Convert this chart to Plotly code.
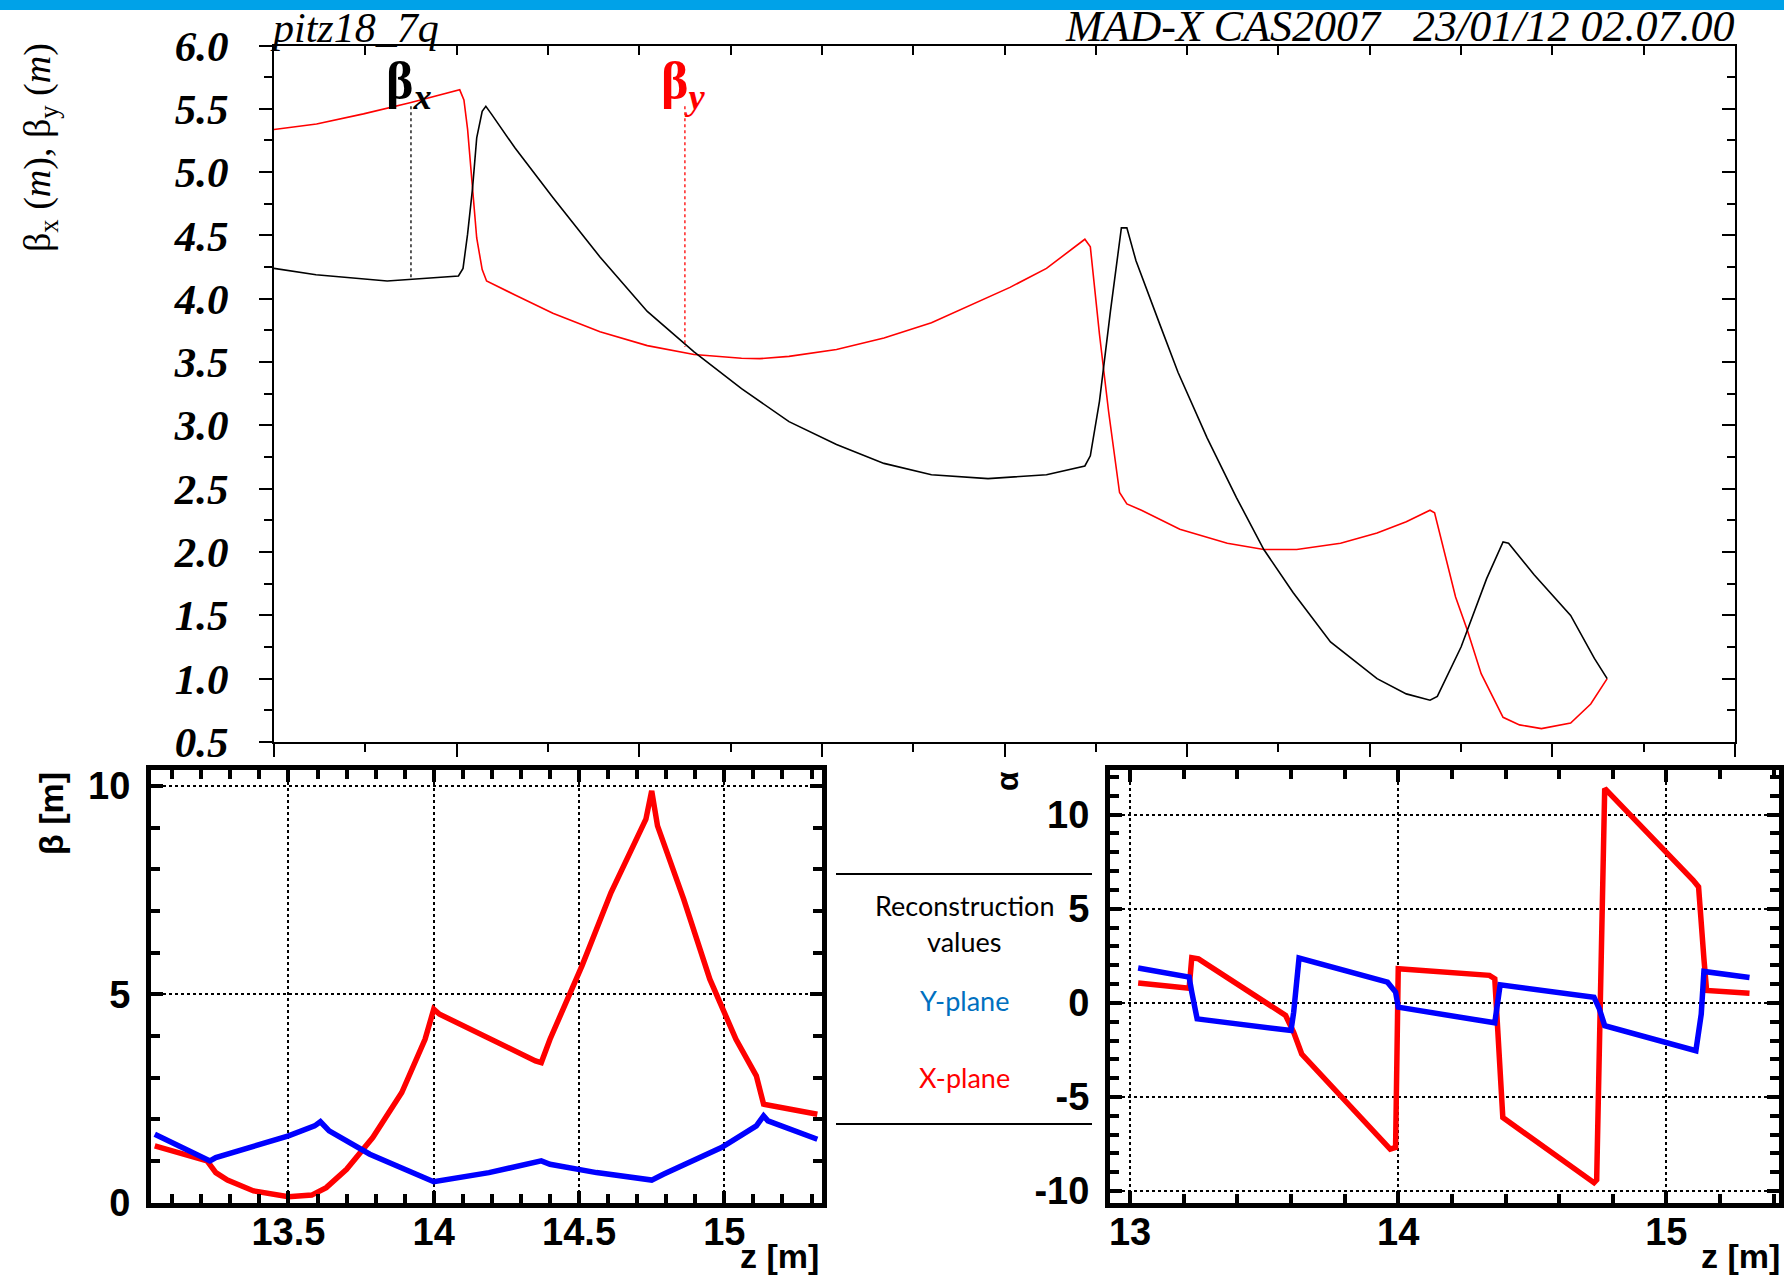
import plotly.graph_objects as go

# ---------------- data ----------------
# Top panel (MAD-X optics), s in arbitrary units along beamline (8 major ticks)
top_s_bx = [0, 0.23, 0.62, 1.01, 1.035, 1.06, 1.087, 1.11, 1.14, 1.16, 1.19, 1.32, 1.527, 1.785,
            2.044, 2.30, 2.56, 2.82, 3.08, 3.34, 3.60, 3.91, 4.23, 4.44, 4.47, 4.52, 4.58, 4.64,
            4.67, 4.72, 4.85, 4.95, 5.11, 5.27, 5.42, 5.58, 5.785, 6.04, 6.2, 6.33, 6.37, 6.50,
            6.64, 6.73, 6.76, 6.90, 7.10, 7.23, 7.30]
top_beta_x = [4.24, 4.19, 4.14, 4.18, 4.24, 4.51, 4.87, 5.27, 5.48, 5.52, 5.46, 5.19, 4.80, 4.33,
              3.90, 3.58, 3.29, 3.03, 2.85, 2.70, 2.61, 2.58, 2.61, 2.68, 2.76, 3.19, 3.90, 4.56,
              4.56, 4.30, 3.80, 3.42, 2.90, 2.43, 2.02, 1.68, 1.29, 1.00, 0.88, 0.83, 0.86, 1.25,
              1.79, 2.08, 2.07, 1.82, 1.50, 1.16, 1.00]
top_s_by = [0, 0.233, 0.49, 0.75, 1.017, 1.04, 1.06, 1.087, 1.11, 1.14, 1.164, 1.32, 1.527, 1.785,
            2.044, 2.30, 2.56, 2.66, 2.82, 3.08, 3.34, 3.60, 3.855, 4.03, 4.23, 4.44, 4.47, 4.52,
            4.57, 4.63, 4.67, 4.75, 4.96, 5.22, 5.42, 5.60, 5.84, 6.04, 6.2, 6.33, 6.355, 6.47,
            6.535, 6.61, 6.73, 6.82, 6.94, 7.10, 7.21, 7.30]
top_beta_y = [5.337, 5.38, 5.46, 5.55, 5.65, 5.57, 5.34, 4.87, 4.48, 4.23, 4.14, 4.03, 3.885, 3.74,
              3.63, 3.56, 3.53, 3.527, 3.545, 3.60, 3.69, 3.81, 3.975, 4.09, 4.24, 4.47, 4.41, 3.72,
              3.11, 2.47, 2.38, 2.33, 2.18, 2.07, 2.02, 2.02, 2.07, 2.15, 2.24, 2.33, 2.31, 1.645,
              1.38, 1.04, 0.695, 0.635, 0.606, 0.65, 0.80, 1.00]
# curve labels: position along s and pointer span
label_names = ["β<sub><i>x</i></sub>", "β<sub><i>y</i></sub>"]
label_s = [0.75, 2.25]
label_top = [5.52, 5.52]
label_bottom = [4.15, 3.62]
label_text_y = [5.69, 5.69]

# Bottom-left: beta reconstruction
bl_z_y = [13.04, 13.23, 13.25, 13.50, 13.59, 13.61, 13.64, 13.78, 14.00, 14.19, 14.37, 14.40,
          14.56, 14.75, 14.79, 14.99, 15.11, 15.135, 15.15, 15.32]
bl_beta_y = [1.64, 1.00, 1.08, 1.60, 1.84, 1.94, 1.72, 1.16, 0.50, 0.72, 1.00, 0.92,
             0.72, 0.54, 0.68, 1.32, 1.84, 2.08, 1.96, 1.52]
bl_z_x = [13.04, 13.22, 13.25, 13.29, 13.38, 13.50, 13.58, 13.63, 13.70, 13.79, 13.89, 13.97,
          14.00, 14.02, 14.35, 14.37, 14.40, 14.51, 14.61, 14.73, 14.75, 14.77, 14.86, 14.95,
          15.04, 15.11, 15.135, 15.19, 15.32]
bl_beta_x = [1.36, 1.00, 0.72, 0.54, 0.28, 0.14, 0.18, 0.36, 0.80, 1.56, 2.64, 3.92,
             4.64, 4.52, 3.40, 3.36, 3.92, 5.68, 7.44, 9.20, 9.88, 9.04, 7.28, 5.36,
             3.92, 3.04, 2.36, 2.28, 2.12]

# Bottom-right: alpha reconstruction
br_z_y = [13.03, 13.22, 13.23, 13.25, 13.60, 13.61, 13.63, 13.96, 13.99, 14.00, 14.36, 14.37,
          14.38, 14.73, 14.75, 14.77, 15.11, 15.13, 15.14, 15.31]
br_alpha_y = [1.85, 1.37, 0.57, -0.85, -1.47, -0.50, 2.38, 1.10, 0.57, -0.23, -1.06, -0.10,
              0.96, 0.30, -0.32, -1.21, -2.54, -0.60, 1.67, 1.35]
br_z_x = [13.03, 13.22, 13.23, 13.255, 13.58, 13.61, 13.64, 13.97, 13.99, 14.00, 14.34, 14.36,
          14.39, 14.73, 14.74, 14.77, 15.10, 15.12, 15.14, 15.15, 15.31]
br_alpha_x = [1.06, 0.78, 2.40, 2.34, -0.67, -1.56, -2.72, -7.77, -7.68, 1.81, 1.46, 1.28,
              -6.09, -9.55, -9.40, 11.39, 6.51, 6.16, 2.34, 0.66, 0.51]

bl_xticks = [13.5, 14, 14.5, 15]
bl_yticks = [0, 5, 10]
br_xticks = [13, 14, 15]
br_yticks = [-10, -5, 0, 5, 10]
br_yticktext = ["-10", "-5", "0", "5", "10"]
legend_lines = ["Reconstruction", "values", "Y-plane", "X-plane"]

# ---------------- figure ----------------
W, H = 1784, 1279
def px(x): return x / W
def py(y): return 1 - y / H

SERIF = "Liberation Serif"
SANS = "Liberation Sans"
fig = go.Figure()

# top panel traces
fig.add_trace(go.Scatter(x=top_s_by, y=top_beta_y, mode="lines", line=dict(color="#ff0000", width=1.6),
                         xaxis="x", yaxis="y", showlegend=False))
fig.add_trace(go.Scatter(x=top_s_bx, y=top_beta_x, mode="lines", line=dict(color="black", width=1.6),
                         xaxis="x", yaxis="y", showlegend=False))
label_colors = ["black", "#ff0000"]
for i in range(2):
    fig.add_trace(go.Scatter(x=[label_s[i], label_s[i]], y=[label_top[i], label_bottom[i]], mode="lines",
                             line=dict(color=label_colors[i], width=1.3, dash="dot"),
                             xaxis="x", yaxis="y", showlegend=False))
    fig.add_annotation(x=label_s[i] - 0.01, y=label_text_y[i], xref="x", yref="y", text=label_names[i],
                       showarrow=False, xanchor="center", yanchor="middle",
                       font=dict(family=SERIF, size=52, color=label_colors[i], weight="bold"))
# dummy trace for mirror axes
fig.add_trace(go.Scatter(x=[0], y=[1], mode="markers", marker=dict(opacity=0), xaxis="x2", yaxis="y2",
                         showlegend=False, hoverinfo="skip"))

# bottom-left
fig.add_trace(go.Scatter(x=bl_z_x, y=bl_beta_x, mode="lines", line=dict(color="#ff0000", width=5.5),
                         xaxis="x3", yaxis="y3", showlegend=False))
fig.add_trace(go.Scatter(x=bl_z_y, y=bl_beta_y, mode="lines", line=dict(color="#0000ff", width=5.5),
                         xaxis="x3", yaxis="y3", showlegend=False))
# bottom-right
fig.add_trace(go.Scatter(x=br_z_x, y=br_alpha_x, mode="lines", line=dict(color="#ff0000", width=5.5),
                         xaxis="x4", yaxis="y4", showlegend=False))
fig.add_trace(go.Scatter(x=br_z_y, y=br_alpha_y, mode="lines", line=dict(color="#0000ff", width=5.5),
                         xaxis="x4", yaxis="y4", showlegend=False))

top_dom_x = [px(274), px(1735)]
top_dom_y = [py(742), py(45.5)]
bot_dom_y = [py(1202.6), py(770)]
bl_dom_x = [px(151), px(822)]
br_dom_x = [px(1110), px(1779)]

bold_sans = dict(family=SANS, size=38, color="black", weight="bold")

def bottom_axis(domain, anchor, rng, tickvals, minor_dtick, minor_tick0, ticktext=None, standoff=8):
    d = dict(domain=domain, anchor=anchor, range=rng, tickmode="array", tickvals=tickvals,
             ticks="inside", ticklen=12, tickwidth=4, tickcolor="black",
             showline=True, linewidth=5, linecolor="black", mirror="allticks",
             showgrid=True, gridcolor="black", griddash="dot", gridwidth=1.5,
             zeroline=False, tickfont=bold_sans, ticklabelstandoff=standoff, automargin=False,
             minor=dict(dtick=minor_dtick, tick0=minor_tick0, ticks="inside", ticklen=9,
                        tickwidth=4, tickcolor="black", showgrid=False))
    if ticktext is not None:
        d["ticktext"] = ticktext
    return d

fig.update_layout(
    template="none",
    width=W, height=H, margin=dict(l=0, r=0, t=0, b=0, pad=0), autosize=False,
    paper_bgcolor="white", plot_bgcolor="rgba(0,0,0,0)",
    xaxis=dict(domain=top_dom_x, anchor="y", range=[0, 8], dtick=1, tick0=0, automargin=False,
               ticks="outside", ticklen=13, tickwidth=2, tickcolor="black",
               showticklabels=False, showline=True, linewidth=2, linecolor="black", mirror=True,
               showgrid=False, zeroline=False,
               minor=dict(dtick=0.5, tick0=0, ticks="outside", ticklen=8, tickwidth=2, tickcolor="black")),
    yaxis=dict(domain=top_dom_y, anchor="x", range=[0.5, 6.0], dtick=0.5, tick0=0.5, tickformat=".1f",
               ticks="outside", ticklen=13, tickwidth=2, tickcolor="black", automargin=False,
               showline=True, linewidth=2, linecolor="black", mirror=True,
               showgrid=False, zeroline=False, ticklabelstandoff=22,
               tickfont=dict(family=SERIF, size=43, color="black", weight="bold", style="italic"),
               minor=dict(dtick=0.25, tick0=0.5, ticks="outside", ticklen=8, tickwidth=2, tickcolor="black")),
    xaxis2=dict(overlaying="x", anchor="y", side="top", range=[0, 8], dtick=0.5, tick0=0, automargin=False,
                ticks="inside", ticklen=9, tickwidth=2, tickcolor="black", showticklabels=False,
                showline=False, showgrid=False, zeroline=False),
    yaxis2=dict(overlaying="y", anchor="x", side="right", range=[0.5, 6.0], dtick=0.5, tick0=0.5,
                ticks="inside", ticklen=13, tickwidth=2, tickcolor="black", showticklabels=False,
                showline=False, showgrid=False, zeroline=False, automargin=False,
                minor=dict(dtick=0.25, tick0=0.5, ticks="inside", ticklen=8, tickwidth=2, tickcolor="black")),
    xaxis3=bottom_axis(bl_dom_x, "y3", [13.027, 15.336], bl_xticks, 0.1, 13.0, standoff=-8),
    yaxis3=bottom_axis(bot_dom_y, "x3", [0, 10.38], bl_yticks, 1, 0),
    xaxis4=bottom_axis(br_dom_x, "y4", [12.925, 15.42], br_xticks, 0.2, 13.0, standoff=-8),
    yaxis4=bottom_axis(bot_dom_y, "x4", [-10.61, 12.37], br_yticks, 1, 0, ticktext=br_yticktext),
)

# top blue band
fig.add_shape(type="rect", xref="paper", yref="paper", x0=0, x1=1, y0=py(10), y1=1,
              fillcolor="#00a2e8", line=dict(width=0), layer="above")

# titles / texts
fig.add_annotation(x=px(268), y=py(28), xref="paper", yref="paper", text="pitz18_7q", showarrow=False,
                   xanchor="left", yanchor="middle",
                   font=dict(family=SERIF, size=42, color="black", style="italic"))
fig.add_annotation(x=px(1737), y=py(27), xref="paper", yref="paper",
                   text="MAD-X CAS2007\u00a0\u00a0 23/01/12 02.07.00", showarrow=False,
                   xanchor="right", yanchor="middle",
                   font=dict(family=SERIF, size=44, color="black", style="italic"))
fig.add_annotation(x=px(40), y=py(148), xref="paper", yref="paper",
                   text="β<sub>x</sub> (<i>m</i>), β<sub>y</sub> (<i>m</i>)", showarrow=False, textangle=-90,
                   xanchor="center", yanchor="middle",
                   font=dict(family=SERIF, size=38, color="black"))
fig.add_annotation(x=px(51), y=py(814), xref="paper", yref="paper", text="β [m]", showarrow=False,
                   textangle=-90, xanchor="center", yanchor="middle",
                   font=dict(family=SANS, size=34, color="black", weight="bold"))
fig.add_annotation(x=px(821), y=py(1256), xref="paper", yref="paper", text="z [m]", showarrow=False,
                   xanchor="right", yanchor="middle", font=dict(family=SANS, size=34, color="black", weight="bold"))
fig.add_annotation(x=px(1782), y=py(1256), xref="paper", yref="paper", text="z [m]", showarrow=False,
                   xanchor="right", yanchor="middle", font=dict(family=SANS, size=34, color="black", weight="bold"))
fig.add_annotation(x=px(1007), y=py(781), xref="paper", yref="paper", text="α", showarrow=False,
                   textangle=-90, xanchor="center", yanchor="middle",
                   font=dict(family=SANS, size=32, color="black", weight="bold"))

# middle legend block
leg_y = [905, 942, 1000, 1077]
leg_c = ["black", "black", "#0070c0", "#ff0000"]
for t, yy, c in zip(legend_lines, leg_y, leg_c):
    fig.add_annotation(x=px(964), y=py(yy), xref="paper", yref="paper", text=t, showarrow=False,
                       xanchor="center", yanchor="middle", font=dict(family="Lato", size=27, color=c))
for yy in [874, 1124]:
    fig.add_shape(type="line", xref="paper", yref="paper", x0=px(836), x1=px(1092), y0=py(yy), y1=py(yy),
                  line=dict(color="black", width=2))

fig.write_html("out.html", post_script="document.body.style.margin='0';",
               config={"displayModeBar": False})
